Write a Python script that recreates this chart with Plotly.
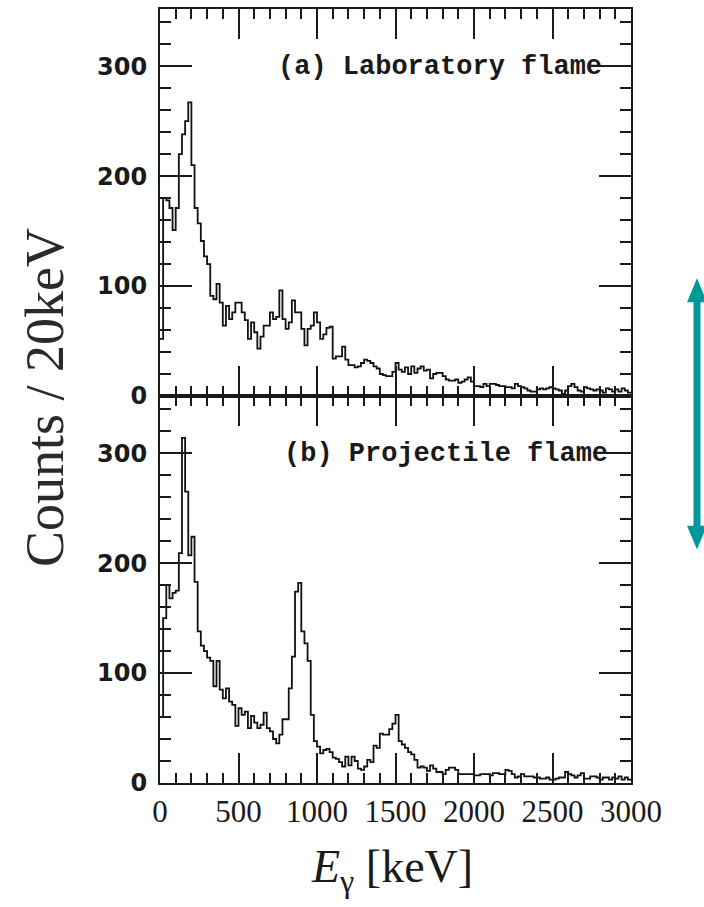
import plotly.graph_objects as go
from plotly.subplots import make_subplots

# ---------------- data (20 keV bins, 0 - 3000 keV) ----------------
bin_width_kev = 20
n_bins = 150

lab_counts = [
    52, 180, 178, 171, 151, 171, 220, 238, 250, 267,
    210, 171, 157, 141, 127, 120, 91, 88, 102, 85,
    64, 82, 70, 76, 85, 85, 76, 69, 52, 67,
    58, 43, 54, 64, 64, 76, 70, 72, 96, 70,
    61, 67, 87, 76, 76, 61, 46, 61, 64, 76,
    67, 52, 56, 62, 63, 34, 36, 36, 45, 33,
    28, 28, 26, 27, 30, 33, 32, 30, 27, 25,
    20, 19, 18, 18, 22, 30, 24, 22, 26, 20,
    27, 21, 25, 27, 23, 24, 16, 20, 21, 21,
    18, 15, 14, 14, 15, 12, 13, 15, 17, 13,
    9, 9, 8, 11, 9, 11, 11, 10, 9, 9,
    8, 8, 7, 11, 9, 8, 7, 5, 4, 4,
    6, 7, 6, 7, 8, 7, 6, 5, 2, 5,
    9, 11, 8, 5, 4, 8, 7, 6, 5, 6,
    5, 3, 7, 6, 4, 6, 4, 7, 5, 3,
]

proj_counts = [
    60, 150, 180, 168, 173, 175, 209, 314, 265, 207,
    224, 183, 138, 125, 120, 114, 111, 88, 111, 85,
    77, 86, 74, 71, 52, 68, 62, 65, 50, 61,
    55, 50, 53, 64, 50, 47, 40, 36, 44, 58,
    58, 86, 115, 174, 182, 138, 127, 111, 62, 38,
    33, 27, 30, 31, 28, 23, 22, 19, 15, 24,
    16, 24, 20, 13, 12, 15, 21, 19, 34, 32,
    45, 44, 44, 49, 54, 62, 38, 35, 32, 28,
    26, 21, 14, 15, 14, 11, 16, 13, 10, 10,
    8, 12, 14, 14, 12, 8, 8, 8, 8, 8,
    7, 7, 8, 8, 8, 7, 9, 9, 8, 8,
    12, 11, 8, 5, 6, 8, 6, 6, 6, 5,
    5, 4, 4, 5, 3, 3, 4, 5, 5, 10,
    8, 7, 5, 7, 9, 4, 4, 6, 6, 5,
    3, 5, 5, 3, 5, 4, 6, 3, 5, 3,
]

panel_labels = ["(a) Laboratory flame", "(b) Projectile flame"]
x_tick_vals = [0, 500, 1000, 1500, 2000, 2500, 3000]
y_tick_vals = [0, 100, 200, 300]
x_range = [0, 3000]
y_range = [0, 352]

# ---------------- figure ----------------
W, H = 704, 907
L, R, T, B = 160, 73, 7, 124
PW, PH = W - L - R, H - T - B

def px(xp):
    return (xp - L) / PW

def py(yp):
    return (H - B - yp) / PH

edges = [i * bin_width_kev for i in range(n_bins + 1)]

fig = make_subplots(rows=2, cols=1, shared_xaxes=True, vertical_spacing=0)

for row, counts in ((1, lab_counts), (2, proj_counts)):
    fig.add_trace(
        go.Scatter(
            x=edges,
            y=list(counts) + [counts[-1]],
            mode="lines",
            line=dict(shape="hv", color="#111111", width=1.8),
            showlegend=False,
            hoverinfo="skip",
        ),
        row=row, col=1,
    )

ink = "#1a1a1a"
common_x = dict(
    range=x_range, tickvals=x_tick_vals, ticks="inside", ticklen=30, tickwidth=2,
    tickcolor=ink, showline=True, linewidth=2.2, linecolor=ink, mirror="allticks",
    showgrid=False, zeroline=False,
    minor=dict(dtick=100, ticks="inside", ticklen=10, tickwidth=1.6, tickcolor=ink, showgrid=False),
)
common_y = dict(
    range=y_range, tickvals=y_tick_vals, ticks="inside", ticklen=32, tickwidth=2,
    tickcolor=ink, showline=True, linewidth=2.2, linecolor=ink, mirror="allticks",
    showgrid=False, zeroline=False,
    tickfont=dict(family="DejaVu Sans", size=24, color=ink, weight="bold"),
    ticklabelstandoff=6,
    minor=dict(dtick=20, ticks="inside", ticklen=11, tickwidth=1.6, tickcolor=ink, showgrid=False),
)

fig.update_xaxes(common_x)
fig.update_yaxes(common_y)
fig.update_xaxes(showticklabels=False, row=1, col=1)
fig.update_xaxes(showticklabels=True, row=2, col=1,
                 tickfont=dict(family="Liberation Serif", size=31, color=ink),
                 ticklabelstandoff=0)
fig.update_layout(
    yaxis=dict(domain=[0.5, 1.0]),
    yaxis2=dict(domain=[0.0, 0.5]),
)

label_font = dict(family="Liberation Mono", size=27, color=ink, weight="bold")
fig.add_annotation(text=panel_labels[0], xref="x domain", yref="y domain",
                   x=px(440), y=(395 - 65) / 388, xanchor="center", yanchor="middle",
                   showarrow=False, font=label_font)
fig.add_annotation(text=panel_labels[1], xref="x2 domain", yref="y2 domain",
                   x=px(446), y=(783 - 453) / 388, xanchor="center", yanchor="middle",
                   showarrow=False, font=label_font)

# axis titles
fig.add_annotation(text="Counts / 20keV", xref="paper", yref="paper",
                   x=px(45), y=py(397), xanchor="center", yanchor="middle",
                   textangle=-90, showarrow=False,
                   font=dict(family="Liberation Serif", size=54, color="#2a2a2a"))
fig.add_annotation(text="<i>E</i><sub>γ</sub> [keV]", xref="paper", yref="paper",
                   x=px(392), y=py(870), xanchor="center", yanchor="middle",
                   showarrow=False,
                   font=dict(family="Liberation Serif", size=46, color="#1a1a1a"))

# teal double arrow on the right
teal = "#009898"
ax_c = 697
fig.add_shape(type="line", xref="paper", yref="paper",
              x0=px(ax_c), x1=px(ax_c), y0=py(298), y1=py(528),
              line=dict(color=teal, width=7))
for tip, base in ((277, 301), (549, 525)):
    path = (f"M {px(ax_c)} {py(tip)} L {px(ax_c - 10)} {py(base)} "
            f"L {px(ax_c + 10)} {py(base)} Z")
    fig.add_shape(type="path", xref="paper", yref="paper", path=path,
                  fillcolor=teal, line=dict(color=teal, width=0))

fig.update_layout(
    width=W, height=H,
    margin=dict(l=L, r=R, t=T, b=B, pad=0),
    paper_bgcolor="white", plot_bgcolor="white",
    showlegend=False,
)

fig.write_html("out.html")
